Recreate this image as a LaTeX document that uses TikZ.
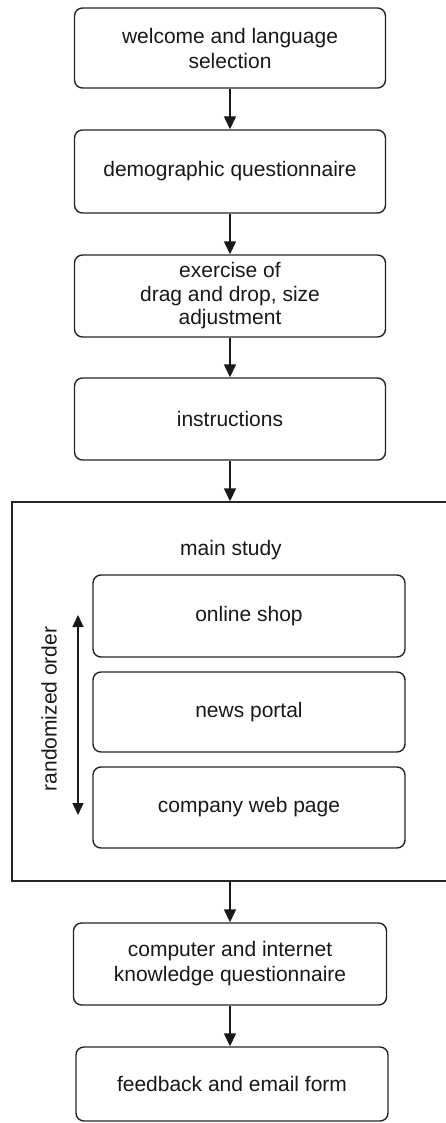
\documentclass[tikz,border=0pt]{standalone}
\usepackage{fontspec}
\setmainfont{Liberation Sans}
\usetikzlibrary{arrows.meta}
\begin{document}
\begin{tikzpicture}[x=1pt,y=1pt,
  line width=1.4pt,
  every node/.style={font=\fontsize{21}{25}\selectfont, text=black!90},
  stepbox/.style={draw=black!85, rounded corners=8pt, minimum width=311pt, minimum height=82pt, inner sep=1pt, align=center},
  innerbox/.style={stepbox, minimum width=312pt, minimum height=81pt},
  flow/.style={draw=black!90, -{Triangle[width=12pt,length=13pt]}},
  both/.style={draw=black!90, {Triangle[width=11pt,length=12pt]}-{Triangle[width=11pt,length=12pt]}}
]
\useasboundingbox (0,0) rectangle (446,-1123);
\clip (0,0) rectangle (446,-1123);
\fill[white] (0,0) rectangle (446,-1123);

\node[stepbox, minimum height=80pt] (b1) at (230,-48) {welcome and language\\selection};
\node[stepbox, minimum height=83pt] (b2) at (230,-171.5) {demographic questionnaire};
\node[stepbox, font=\fontsize{21}{23.5}\selectfont] (b3) at (230,-296) {exercise of\\drag and drop, size\\adjustment};
\node[stepbox] (b4) at (230,-419) {instructions};

\node[draw=black!85, sharp corners, minimum width=442pt, minimum height=379pt, inner sep=0pt] (main) at (233,-691.5) {};
\node (mtitle) at (231,-550) {main study};

\node[innerbox, minimum height=82pt] (s1) at (249,-616) {online shop};
\node[innerbox, minimum height=80pt] (s2) at (249,-712) {news portal};
\node[innerbox] (s3) at (249,-807.5) {company web page};

\coordinate (rtop) at (78,-615);
\coordinate (rbot) at (78,-815);
\draw[both] (rtop) -- (rbot);
\node[rotate=90] (rlabel) at (49,-709) {randomized order};

\node[stepbox, minimum width=313pt] (b8) at (230,-964) {computer and internet\\knowledge questionnaire};
\node[stepbox, minimum width=312pt, minimum height=74pt] (b9) at (232,-1084) {feedback and email form};

\draw[flow] (b1.south) -- (b2.north);
\draw[flow] (b2.south) -- (b3.north);
\draw[flow] (b3.south) -- (b4.north);
\draw[flow] (b4.south) -- (b4.south |- main.north);
\draw[flow] (b8.north |- main.south) -- (b8.north);
\draw[flow] (b8.south) -- (b8.south |- b9.north);
\end{tikzpicture}
\end{document}
